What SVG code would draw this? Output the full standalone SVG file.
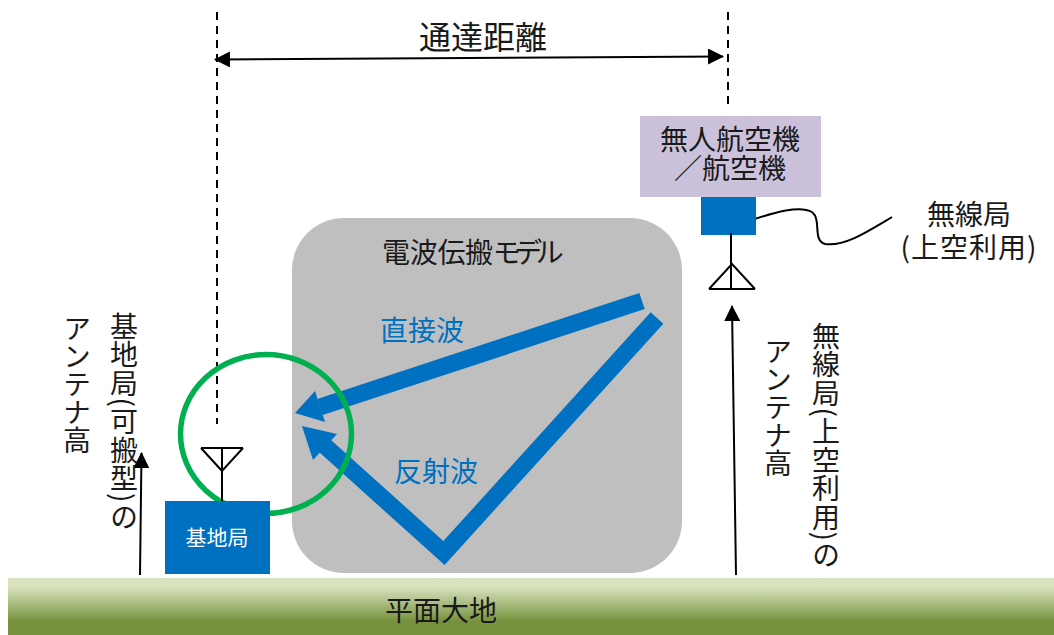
<svg xmlns="http://www.w3.org/2000/svg" width="1054" height="635" viewBox="0 0 1054 635">
<defs>
<linearGradient id="g" x1="0" y1="0" x2="0" y2="1"><stop offset="0.15" stop-color="#d9e3bf"/><stop offset="0.76" stop-color="#76923c"/></linearGradient>
<marker id="ah" markerUnits="userSpaceOnUse" markerWidth="16" markerHeight="16" viewBox="0 0 16 16" refX="15" refY="8" orient="auto-start-reverse"><path d="M0 0L16 8L0 16Z" fill="#000"/></marker>
</defs>
<style>
text{font-family:"Noto Sans CJK JP","Noto Sans",sans-serif;fill:#1a1a1a;font-size:28px;font-weight:400}
.c{text-anchor:middle}
.b{fill:#0070c0}
.v{writing-mode:vertical-rl}
.l{fill:none;stroke:#000;stroke-width:2}
.d{fill:none;stroke:#000;stroke-width:2;stroke-dasharray:8 6}
.bl{fill:none;stroke:#0070c0;stroke-width:17}
</style>
<rect id="ground" x="8" y="578" width="1046" height="57" fill="url(#g)"/>
<text x="441" y="621" class="c">平面大地</text>
<g id="model"><rect x="292" y="218" width="390" height="355" rx="52" fill="#bfbfbf"/>
<text x="382" y="263" style="letter-spacing:-.3px">電波伝搬<tspan style="letter-spacing:-6.500px">モデル</tspan></text></g>
<g id="connectors">
<path class="d" d="M217 12V424"/>
<path class="d" d="M728 12V105"/>
<path class="l" d="M215 59.500L723 56.500" marker-start="url(#ah)" marker-end="url(#ah)"/>
<path class="l" d="M140 575L141.500 453" marker-end="url(#ah)"/>
<path class="l" d="M736 575L732 306" marker-end="url(#ah)"/>
<path class="l" d="M749 221C775 212 800 205 812 212C822 220 812 240 825 244C845 247 870 230 892 217"/>
</g>
<text x="483" y="49" class="c" style="font-size:32px">通達距離</text>
<g id="waves">
<path class="bl" d="M642 301L320 407"/>
<path class="b" d="M295 413L315 391L325 422Z"/>
<path class="bl" d="M657 318L444 553L325 446"/>
<path class="b" d="M302 426L337 434L313 460Z"/>
<text x="422" y="341" class="c" style="fill:#0070c0">直接波</text>
<text x="436" y="482" class="c" style="fill:#0070c0">反射波</text>
</g>
<ellipse id="coverage" cx="266" cy="434" rx="85.500" ry="79.500" fill="none" stroke="#00b050" stroke-width="5.500"/>
<g id="base">
<path class="l" d="M222 501V448M201 448H243M201 448L222 471L243 448"/>
<rect x="165" y="501" width="105" height="73" class="b"/>
<text x="217" y="545" class="c" style="fill:#fff;font-size:21px">基地局</text>
</g>
<g id="aircraft">
<rect x="640" y="116" width="181" height="81" fill="#ccc1da"/>
<text x="730" y="150" class="c">無人航空機</text>
<text x="730" y="179" class="c">／航空機</text>
</g>
<g id="station">
<rect x="701" y="197" width="55" height="38" class="b"/>
<path class="l" d="M731 233V289M709 289H755M709 289L732 264L755 289"/>
</g>
<text x="969" y="225" class="c">無線局</text>
<text x="969" y="258" class="c" style="letter-spacing:1px">(上空利用)</text>
<text x="124" y="312" class="v" style="letter-spacing:.5px">基地局(可搬型)の</text>
<text x="77" y="314" class="v">アンテナ高</text>
<text x="826" y="322" class="v" style="letter-spacing:.5px">無線局(上空利用)の</text>
<text x="778" y="337" class="v">アンテナ高</text>
</svg>
